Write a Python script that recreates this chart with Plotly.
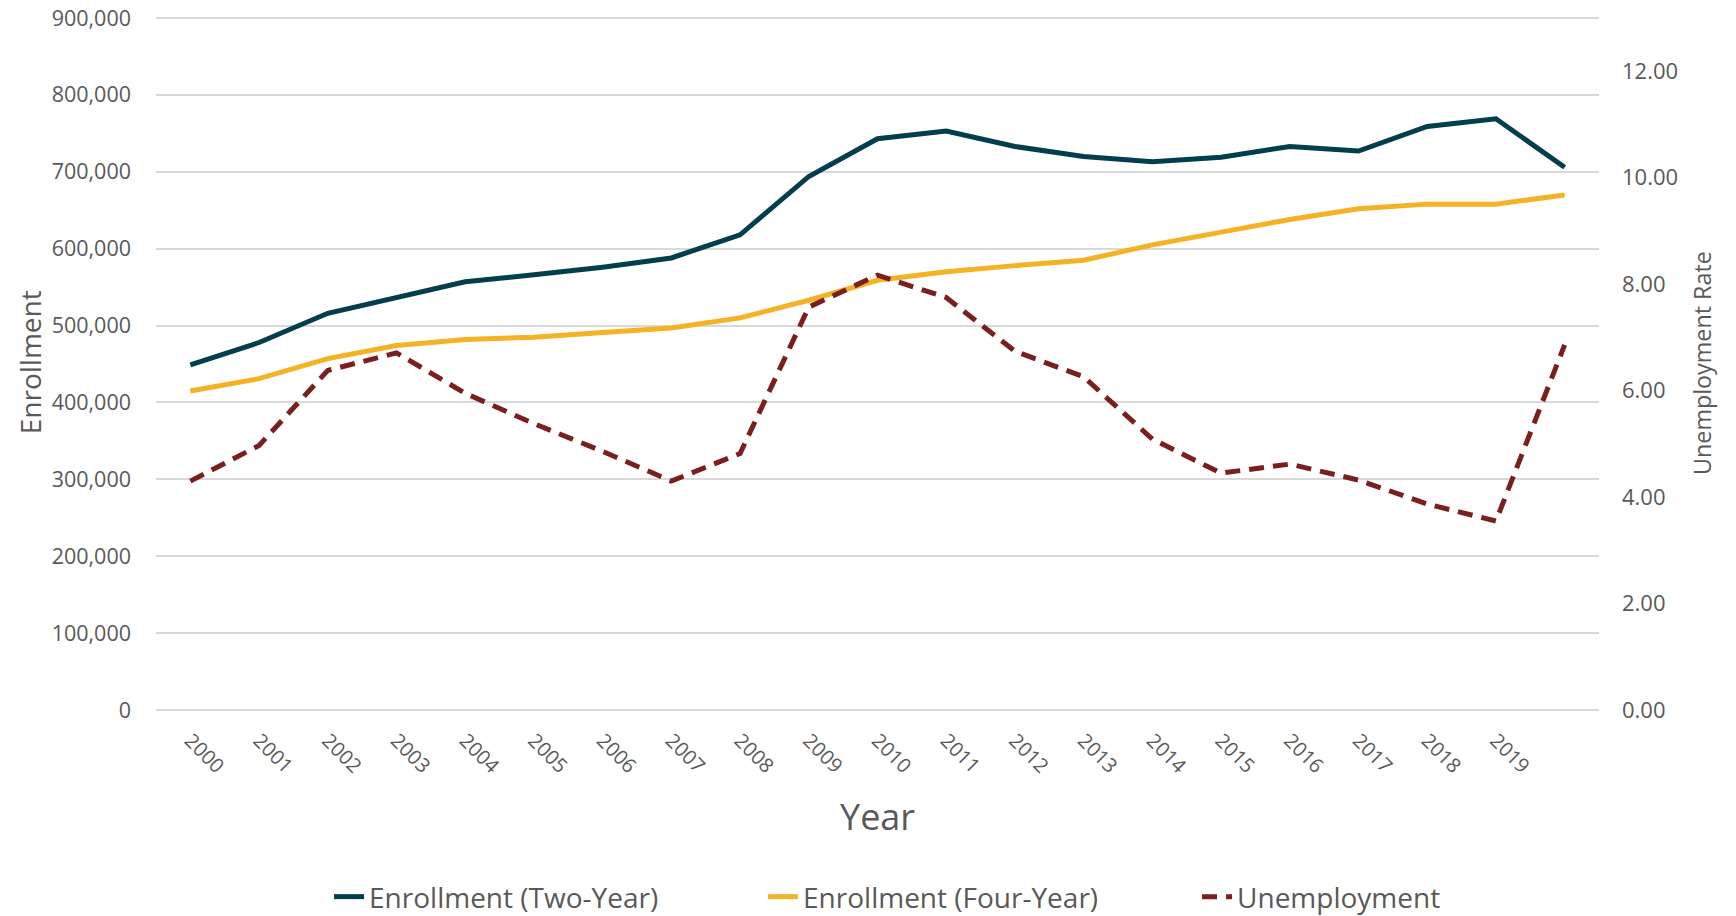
import plotly.graph_objects as go

years = list(range(2000, 2021))
tick_years = list(range(2000, 2020))

enroll_two_year = [449000, 478000, 516000, 537000, 557000, 566000, 576000, 588000, 618000, 694000,
                   743000, 753000, 733000, 720000, 713000, 719000, 733000, 727000, 759000, 769000, 706000]
enroll_four_year = [415000, 431000, 457000, 474000, 482000, 485000, 491000, 497000, 510000, 533000,
                    559000, 570000, 578000, 585000, 605000, 621000, 638000, 652000, 658000, 658000, 670000]
unemployment = [4.30, 4.97, 6.38, 6.71, 5.95, 5.38, 4.86, 4.30, 4.82, 7.57,
                8.17, 7.75, 6.74, 6.26, 5.09, 4.45, 4.62, 4.32, 3.87, 3.55, 6.86]

TXT = "#595959"
GRID = "#D9D9D9"
FONT = "Open Sans"
Y_MAX = 904000

fig = go.Figure()
fig.add_trace(go.Scatter(x=years, y=enroll_two_year, mode="lines", name="Enrollment (Two-Year)",
                         line=dict(color="#033E4F", width=5)))
fig.add_trace(go.Scatter(x=years, y=enroll_four_year, mode="lines", name="Enrollment (Four-Year)",
                         line=dict(color="#F4B224", width=5)))
fig.add_trace(go.Scatter(x=years, y=unemployment, mode="lines", name="Unemployment", yaxis="y2",
                         line=dict(color="#7B1E1E", width=5, dash="15px,9px")))

fig.update_layout(
    width=1728, height=908,
    margin=dict(l=148, r=137, t=7, b=206, autoexpand=False),
    paper_bgcolor="white", plot_bgcolor="white",
    font=dict(family=FONT, color=TXT),
    showlegend=True,
    legend=dict(orientation="h", xref="container", yref="container",
                x=0.1858, xanchor="left", y=0.021, yanchor="middle",
                font=dict(size=28, color=TXT, family=FONT),
                entrywidth=389, entrywidthmode="pixels"),
    xaxis=dict(range=[1999.5, 2020.5], tickvals=tick_years, ticktext=[str(y) for y in tick_years],
               tickangle=45, tickfont=dict(size=20, color=TXT), showgrid=False, zeroline=False,
               showline=False, ticks="", automargin=False, ticklabelstandoff=14),
    yaxis=dict(range=[0, Y_MAX], tickvals=[i * 100000 for i in range(10)], tickformat=",d",
               tickfont=dict(size=21.5, color=TXT), ticklabeloverflow="allow",
               showgrid=True, gridcolor=GRID, gridwidth=1.5, zeroline=True, zerolinecolor=GRID,
               zerolinewidth=1.5, showline=False, ticklabelstandoff=24, automargin=False),
    yaxis2=dict(range=[0, 13 * Y_MAX / 900000], tickvals=[0, 2, 4, 6, 8, 10, 12], tickformat=".2f",
                overlaying="y", side="right", tickfont=dict(size=22, color=TXT), showgrid=False,
                ticklabeloverflow="allow",
                zeroline=False, showline=False, ticklabelstandoff=22, automargin=False),
    annotations=[
        dict(text="Enrollment", xref="paper", yref="paper", x=-0.0875, y=0.5, textangle=-90,
             xanchor="center", yanchor="middle",
             showarrow=False, font=dict(size=28, color=TXT, family=FONT)),
        dict(text="Unemployment Rate", xref="paper", yref="paper", x=1.071, y=0.5, textangle=-90,
             xanchor="center", yanchor="middle",
             showarrow=False, font=dict(size=23.3, color=TXT, family=FONT)),
        dict(text="Year", xref="paper", yref="paper", x=0.5, y=-0.1536,
             xanchor="center", yanchor="middle", showarrow=False,
             font=dict(size=36, color=TXT, family=FONT)),
    ],
)

fig.write_html("out.html")
